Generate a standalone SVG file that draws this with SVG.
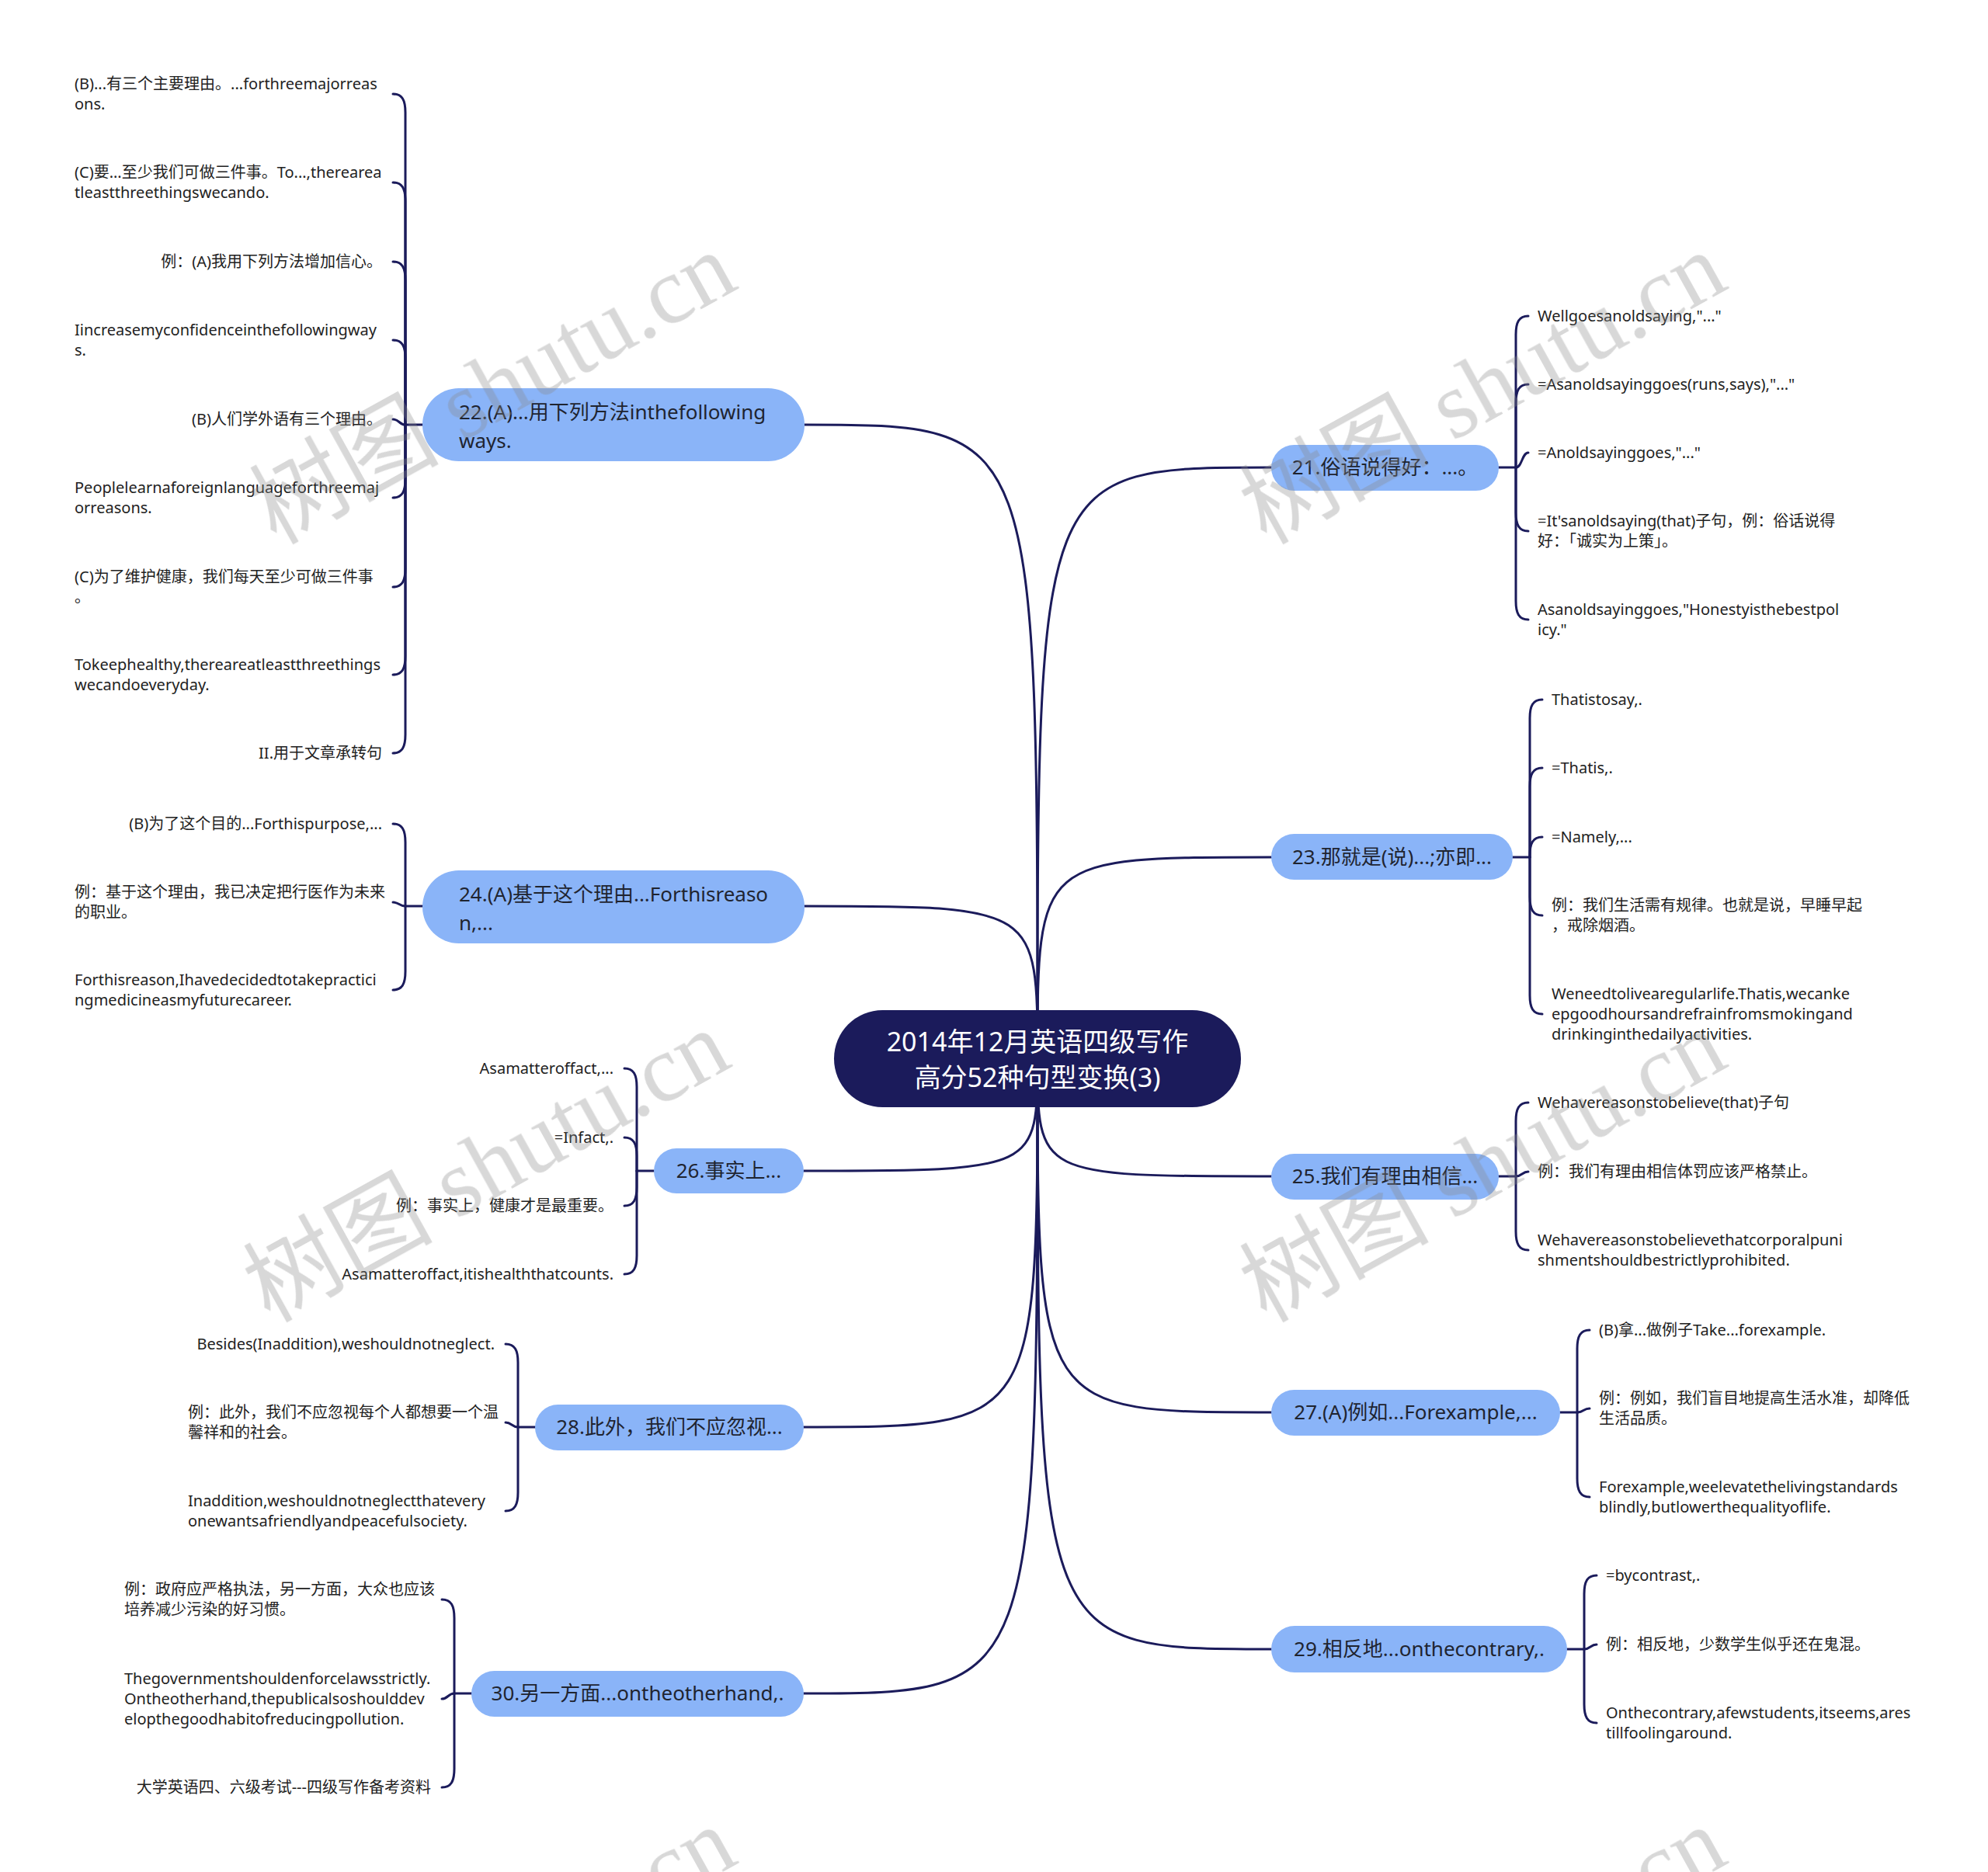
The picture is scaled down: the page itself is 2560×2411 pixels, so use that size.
<svg xmlns="http://www.w3.org/2000/svg" width="2560" height="2411" viewBox="0 0 2560 2411">
<style>
text{font-family:"Noto Sans","Noto Sans CJK SC",sans-serif}
.root{fill:#1b1b5b}
.main{fill:#8ab4f8}
.conn{fill:none;stroke:#1b1b5b;stroke-width:3;stroke-linecap:round}
.tr{font-size:34px;fill:#ffffff;text-anchor:middle}
.tm{font-size:26px;fill:#1f2430}
.tmc{font-size:26px;fill:#1f2430;text-anchor:middle}
.tl{font-size:20px;fill:#222222}
.te{font-size:20px;fill:#222222;text-anchor:end}
.wm{fill:#8a8a8a;opacity:0.33;font-size:122px}
.wc{font-family:"Noto Sans CJK SC",sans-serif}
.ws{font-family:"Liberation Serif",serif}
</style>
<rect width="2560" height="2411" fill="#ffffff"/>
<g id="connectors">
<path class="conn" d="M1036,547 C1336,547 1336,547 1336,1363"/>
<path class="conn" d="M1036,1167 C1336,1167 1336,1167 1336,1363"/>
<path class="conn" d="M1035,1508 C1336,1508 1336,1508 1336,1363"/>
<path class="conn" d="M1035,1838 C1336,1838 1336,1838 1336,1363"/>
<path class="conn" d="M1035,2181 C1336,2181 1336,2181 1336,1363"/>
<path class="conn" d="M1637,602 C1336,602 1336,602 1336,1363"/>
<path class="conn" d="M1637,1104 C1336,1104 1336,1104 1336,1363"/>
<path class="conn" d="M1637,1515 C1336,1515 1336,1515 1336,1363"/>
<path class="conn" d="M1637,1819 C1336,1819 1336,1819 1336,1363"/>
<path class="conn" d="M1637,2124 C1336,2124 1336,2124 1336,1363"/>
<!-- 22 -->
<path class="conn" d="M544,547 H522"/>
<path class="conn" d="M522,547 L522,145 C522,129 518,121 506,121"/>
<path class="conn" d="M522,547 L522,259 C522,243 518,235 506,235"/>
<path class="conn" d="M522,547 L522,361 C522,345 518,337 506,337"/>
<path class="conn" d="M522,547 L522,462 C522,446 518,438 506,438"/>
<path class="conn" d="M522,547 C514,547 514,540 506,540"/>
<path class="conn" d="M522,547 L522,617 C522,633 518,641 506,641"/>
<path class="conn" d="M522,547 L522,732 C522,748 518,756 506,756"/>
<path class="conn" d="M522,547 L522,845 C522,861 518,869 506,869"/>
<path class="conn" d="M522,547 L522,946 C522,962 518,970 506,970"/>
<!-- 24 -->
<path class="conn" d="M544,1167 H522"/>
<path class="conn" d="M522,1167 L522,1085 C522,1069 518,1061 506,1061"/>
<path class="conn" d="M522,1167 C514,1167 514,1162 506,1162"/>
<path class="conn" d="M522,1167 L522,1251 C522,1267 518,1275 506,1275"/>
<!-- 26 -->
<path class="conn" d="M842,1508 H820"/>
<path class="conn" d="M820,1508 L820,1400 C820,1384 816,1376 804,1376"/>
<path class="conn" d="M820,1508 L820,1489 C820,1473 816,1465 804,1465"/>
<path class="conn" d="M820,1508 L820,1529 C820,1545 816,1553 804,1553"/>
<path class="conn" d="M820,1508 L820,1617 C820,1633 816,1641 804,1641"/>
<!-- 28 -->
<path class="conn" d="M689,1838 H667"/>
<path class="conn" d="M667,1838 L667,1755 C667,1739 663,1731 651,1731"/>
<path class="conn" d="M667,1838 C659,1838 659,1832 651,1832"/>
<path class="conn" d="M667,1838 L667,1922 C667,1938 663,1946 651,1946"/>
<!-- 30 -->
<path class="conn" d="M607,2181 H585"/>
<path class="conn" d="M585,2181 L585,2084 C585,2068 581,2060 569,2060"/>
<path class="conn" d="M585,2181 C577,2181 577,2188 569,2188"/>
<path class="conn" d="M585,2181 L585,2278 C585,2294 581,2302 569,2302"/>
<!-- 21 -->
<path class="conn" d="M1930,602 H1952"/>
<path class="conn" d="M1952,602 L1952,431 C1952,415 1956,407 1968,407"/>
<path class="conn" d="M1952,602 L1952,519 C1952,503 1956,495 1968,495"/>
<path class="conn" d="M1952,602 C1960,602 1960,583 1968,583"/>
<path class="conn" d="M1952,602 L1952,660 C1952,676 1956,684 1968,684"/>
<path class="conn" d="M1952,602 L1952,774 C1952,790 1956,798 1968,798"/>
<!-- 23 -->
<path class="conn" d="M1948,1104 H1970"/>
<path class="conn" d="M1970,1104 L1970,925 C1970,909 1974,901 1986,901"/>
<path class="conn" d="M1970,1104 L1970,1013 C1970,997 1974,989 1986,989"/>
<path class="conn" d="M1970,1104 L1970,1102 C1970,1086 1974,1078 1986,1078"/>
<path class="conn" d="M1970,1104 L1970,1155 C1970,1171 1974,1179 1986,1179"/>
<path class="conn" d="M1970,1104 L1970,1282 C1970,1298 1974,1306 1986,1306"/>
<!-- 25 -->
<path class="conn" d="M1930,1515 H1952"/>
<path class="conn" d="M1952,1515 L1952,1444 C1952,1428 1956,1420 1968,1420"/>
<path class="conn" d="M1952,1515 C1960,1515 1960,1509 1968,1509"/>
<path class="conn" d="M1952,1515 L1952,1586 C1952,1602 1956,1610 1968,1610"/>
<!-- 27 -->
<path class="conn" d="M2009,1819 H2031"/>
<path class="conn" d="M2031,1819 L2031,1737 C2031,1721 2035,1713 2047,1713"/>
<path class="conn" d="M2031,1819 C2039,1819 2039,1814 2047,1814"/>
<path class="conn" d="M2031,1819 L2031,1904 C2031,1920 2035,1928 2047,1928"/>
<!-- 29 -->
<path class="conn" d="M2018,2124 H2040"/>
<path class="conn" d="M2040,2124 L2040,2053 C2040,2037 2044,2029 2056,2029"/>
<path class="conn" d="M2040,2124 C2048,2124 2048,2118 2056,2118"/>
<path class="conn" d="M2040,2124 L2040,2195 C2040,2211 2044,2219 2056,2219"/>
</g>

<g id="root">
<rect class="root" x="1074" y="1301" width="524" height="125" rx="62.5"/>
<text class="tr" x="1336" y="1354">2014年12月英语四级写作</text>
<text class="tr" x="1336" y="1400">高分52种句型变换(3)</text>
</g>

<g id="n22">
<rect class="main" x="544" y="500" width="492" height="94" rx="47"/>
<text class="tm" x="591" y="540">22.(A)...用下列方法inthefollowing</text>
<text class="tm" x="591" y="577">ways.</text>
</g>
<g id="n24">
<rect class="main" x="544" y="1121" width="492" height="94" rx="47"/>
<text class="tm" x="591" y="1161">24.(A)基于这个理由...Forthisreaso</text>
<text class="tm" x="591" y="1198">n,...</text>
</g>
<g id="n26">
<rect class="main" x="842" y="1479" width="193" height="58" rx="29"/>
<text class="tmc" x="938.5" y="1517">26.事实上...</text>
</g>
<g id="n28">
<rect class="main" x="689" y="1809" width="346" height="59" rx="29.5"/>
<text class="tmc" x="862" y="1847">28.此外，我们不应忽视...</text>
</g>
<g id="n30">
<rect class="main" x="607" y="2152" width="428" height="59" rx="29.5"/>
<text class="tmc" x="821" y="2190">30.另一方面...ontheotherhand,.</text>
</g>
<g id="n21">
<rect class="main" x="1637" y="573" width="293" height="59" rx="29.5"/>
<text class="tmc" x="1783.5" y="611">21.俗语说得好：...。</text>
</g>
<g id="n23">
<rect class="main" x="1637" y="1074" width="311" height="59" rx="29.5"/>
<text class="tmc" x="1792.5" y="1113">23.那就是(说)...;亦即...</text>
</g>
<g id="n25">
<rect class="main" x="1637" y="1486" width="293" height="59" rx="29.5"/>
<text class="tmc" x="1783.5" y="1524">25.我们有理由相信...</text>
</g>
<g id="n27">
<rect class="main" x="1637" y="1790" width="372" height="59" rx="29.5"/>
<text class="tmc" x="1823" y="1828">27.(A)例如...Forexample,...</text>
</g>
<g id="n29">
<rect class="main" x="1637" y="2094" width="381" height="60" rx="30"/>
<text class="tmc" x="1827.5" y="2133">29.相反地...onthecontrary,.</text>
</g>

<!-- leaves of 22 -->
<g id="l22a"><text class="tl" x="96" y="115">(B)...有三个主要理由。...forthreemajorreas</text><text class="tl" x="96" y="141">ons.</text></g>
<g id="l22b"><text class="tl" x="96" y="229">(C)要...至少我们可做三件事。To...,therearea</text><text class="tl" x="96" y="255">tleastthreethingswecando.</text></g>
<g id="l22c"><text class="te" x="492" y="344">例：(A)我用下列方法增加信心。</text></g>
<g id="l22d"><text class="tl" x="96" y="432">Iincreasemyconfidenceinthefollowingway</text><text class="tl" x="96" y="458">s.</text></g>
<g id="l22e"><text class="te" x="492" y="547">(B)人们学外语有三个理由。</text></g>
<g id="l22f"><text class="tl" x="96" y="635">Peoplelearnaforeignlanguageforthreemaj</text><text class="tl" x="96" y="661">orreasons.</text></g>
<g id="l22g"><text class="tl" x="96" y="750">(C)为了维护健康，我们每天至少可做三件事</text><text class="tl" x="96" y="776">。</text></g>
<g id="l22h"><text class="tl" x="96" y="863">Tokeephealthy,thereareatleastthreethings</text><text class="tl" x="96" y="889">wecandoeveryday.</text></g>
<g id="l22i"><text class="te" x="492" y="977">II.用于文章承转句</text></g>

<!-- leaves of 24 -->
<g id="l24a"><text class="te" x="492" y="1068">(B)为了这个目的...Forthispurpose,...</text></g>
<g id="l24b"><text class="tl" x="96" y="1156">例：基于这个理由，我已决定把行医作为未来</text><text class="tl" x="96" y="1182">的职业。</text></g>
<g id="l24c"><text class="tl" x="96" y="1269">Forthisreason,Ihavedecidedtotakepractici</text><text class="tl" x="96" y="1295">ngmedicineasmyfuturecareer.</text></g>

<!-- leaves of 26 -->
<g id="l26a"><text class="te" x="790" y="1383">Asamatteroffact,...</text></g>
<g id="l26b"><text class="te" x="790" y="1472">=Infact,.</text></g>
<g id="l26c"><text class="te" x="790" y="1560">例：事实上，健康才是最重要。</text></g>
<g id="l26d"><text class="te" x="790" y="1648">Asamatteroffact,itishealththatcounts.</text></g>

<!-- leaves of 28 -->
<g id="l28a"><text class="te" x="637" y="1738">Besides(Inaddition),weshouldnotneglect.</text></g>
<g id="l28b"><text class="tl" x="242" y="1826">例：此外，我们不应忽视每个人都想要一个温</text><text class="tl" x="242" y="1852">馨祥和的社会。</text></g>
<g id="l28c"><text class="tl" x="242" y="1940">Inaddition,weshouldnotneglectthatevery</text><text class="tl" x="242" y="1966">onewantsafriendlyandpeacefulsociety.</text></g>

<!-- leaves of 30 -->
<g id="l30a"><text class="tl" x="160" y="2054">例：政府应严格执法，另一方面，大众也应该</text><text class="tl" x="160" y="2080">培养减少污染的好习惯。</text></g>
<g id="l30b"><text class="tl" x="160" y="2169">Thegovernmentshouldenforcelawsstrictly.</text><text class="tl" x="160" y="2195">Ontheotherhand,thepublicalsoshoulddev</text><text class="tl" x="160" y="2221">elopthegoodhabitofreducingpollution.</text></g>
<g id="l30c"><text class="te" x="555" y="2309">大学英语四、六级考试---四级写作备考资料</text></g>

<!-- leaves of 21 -->
<g id="l21a"><text class="tl" x="1980" y="414">Wellgoesanoldsaying,"..."</text></g>
<g id="l21b"><text class="tl" x="1980" y="502">=Asanoldsayinggoes(runs,says),"..."</text></g>
<g id="l21c"><text class="tl" x="1980" y="590">=Anoldsayinggoes,"..."</text></g>
<g id="l21d"><text class="tl" x="1980" y="678">=It'sanoldsaying(that)子句，例：俗话说得</text><text class="tl" x="1980" y="704">好：「诚实为上策」。</text></g>
<g id="l21e"><text class="tl" x="1980" y="792">Asanoldsayinggoes,"Honestyisthebestpol</text><text class="tl" x="1980" y="818">icy."</text></g>

<!-- leaves of 23 -->
<g id="l23a"><text class="tl" x="1998" y="908">Thatistosay,.</text></g>
<g id="l23b"><text class="tl" x="1998" y="996">=Thatis,.</text></g>
<g id="l23c"><text class="tl" x="1998" y="1085">=Namely,...</text></g>
<g id="l23d"><text class="tl" x="1998" y="1173">例：我们生活需有规律。也就是说，早睡早起</text><text class="tl" x="1998" y="1199">，戒除烟酒。</text></g>
<g id="l23e"><text class="tl" x="1998" y="1287">Weneedtolivearegularlife.Thatis,wecanke</text><text class="tl" x="1998" y="1313">epgoodhoursandrefrainfromsmokingand</text><text class="tl" x="1998" y="1339">drinkinginthedailyactivities.</text></g>

<!-- leaves of 25 -->
<g id="l25a"><text class="tl" x="1980" y="1427">Wehavereasonstobelieve(that)子句</text></g>
<g id="l25b"><text class="tl" x="1980" y="1516">例：我们有理由相信体罚应该严格禁止。</text></g>
<g id="l25c"><text class="tl" x="1980" y="1604">Wehavereasonstobelievethatcorporalpuni</text><text class="tl" x="1980" y="1630">shmentshouldbestrictlyprohibited.</text></g>

<!-- leaves of 27 -->
<g id="l27a"><text class="tl" x="2059" y="1720">(B)拿...做例子Take...forexample.</text></g>
<g id="l27b"><text class="tl" x="2059" y="1808">例：例如，我们盲目地提高生活水准，却降低</text><text class="tl" x="2059" y="1834">生活品质。</text></g>
<g id="l27c"><text class="tl" x="2059" y="1922">Forexample,weelevatethelivingstandards</text><text class="tl" x="2059" y="1948">blindly,butlowerthequalityoflife.</text></g>

<!-- leaves of 29 -->
<g id="l29a"><text class="tl" x="2068" y="2036">=bycontrast,.</text></g>
<g id="l29b"><text class="tl" x="2068" y="2125">例：相反地，少数学生似乎还在鬼混。</text></g>
<g id="l29c"><text class="tl" x="2068" y="2213">Onthecontrary,afewstudents,itseems,ares</text><text class="tl" x="2068" y="2239">tillfoolingaround.</text></g>

<g id="watermarks" class="wm">
<text transform="translate(355,702) rotate(-29)"><tspan class="wc">树图</tspan><tspan class="ws"> shutu.cn</tspan></text>
<text transform="translate(1630,702) rotate(-29)"><tspan class="wc">树图</tspan><tspan class="ws"> shutu.cn</tspan></text>
<text transform="translate(347,1704) rotate(-29)"><tspan class="wc">树图</tspan><tspan class="ws"> shutu.cn</tspan></text>
<text transform="translate(1630,1704) rotate(-29)"><tspan class="wc">树图</tspan><tspan class="ws"> shutu.cn</tspan></text>
<text transform="translate(355,2730) rotate(-29)"><tspan class="wc">树图</tspan><tspan class="ws"> shutu.cn</tspan></text>
<text transform="translate(1630,2730) rotate(-29)"><tspan class="wc">树图</tspan><tspan class="ws"> shutu.cn</tspan></text>
</g>
</svg>
